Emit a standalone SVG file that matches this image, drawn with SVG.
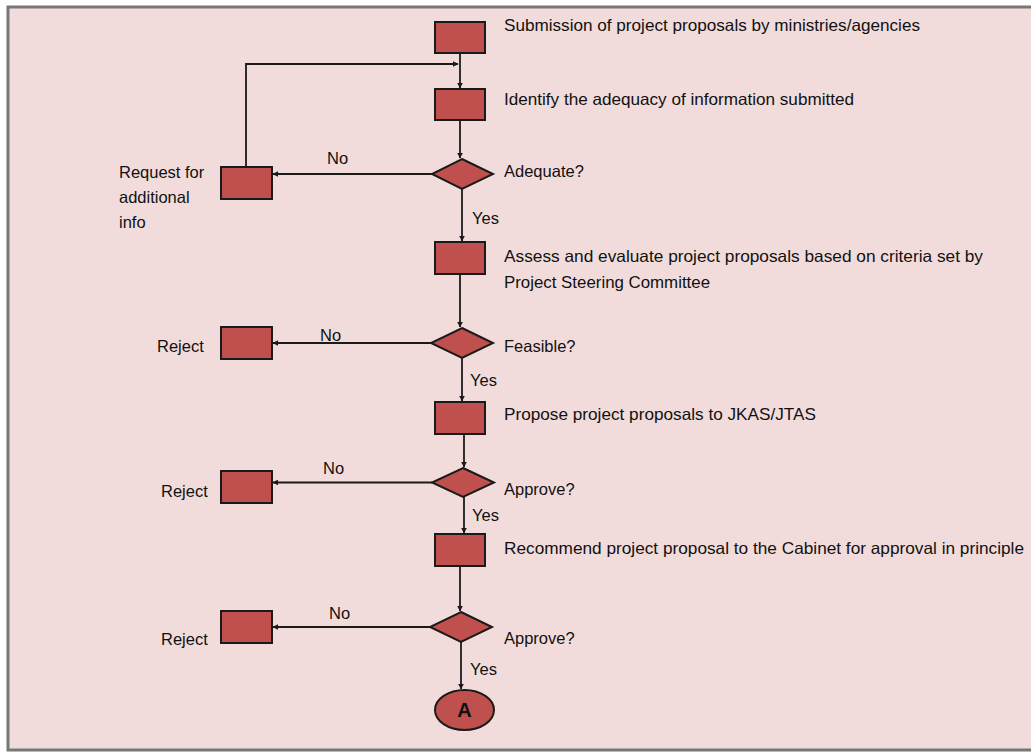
<svg xmlns="http://www.w3.org/2000/svg" width="1031" height="752" viewBox="0 0 1031 752">
<defs>
<style>
.box{fill:#C0504D;stroke:#1a1a1a;stroke-width:2}
.ln{fill:none;stroke:#1a1a1a;stroke-width:1.8;marker-end:url(#ah)}
.t{font-family:"Liberation Sans",Arial,sans-serif;font-size:16.5px;fill:#111111}
.a{font-family:"Liberation Sans",Arial,sans-serif;font-size:20px;font-weight:bold;fill:#111111}
</style>
<marker id="ah" viewBox="0 0 10 10" refX="9" refY="5" markerWidth="6" markerHeight="6" orient="auto" markerUnits="userSpaceOnUse">
<path d="M0,0 L10,5 L0,10 z" fill="#1a1a1a"/>
</marker>
</defs>
<rect x="0" y="0" width="1031" height="752" fill="#ffffff"/>
<rect x="8" y="7" width="1035" height="743" fill="#F2DCDB" stroke="#777777" stroke-width="3"/>

<g id="connectors">
<path class="ln" d="M460,53 V88"/>
<path class="ln" d="M246,167 V64 H458"/>
<path class="ln" d="M460,120 V158"/>
<path class="ln" d="M432,174 H273"/>
<path class="ln" d="M462,189 V241"/>
<path class="ln" d="M460,274 V327"/>
<path class="ln" d="M431,343 H273"/>
<path class="ln" d="M462,358 V401"/>
<path class="ln" d="M464,434 V467"/>
<path class="ln" d="M432,482.5 H273"/>
<path class="ln" d="M464,497 V533"/>
<path class="ln" d="M460,566 V611"/>
<path class="ln" d="M430,627 H273"/>
<path class="ln" d="M461,642 V689"/>
</g>

<g id="n1"><rect class="box" x="435" y="22" width="50" height="31"/>
<text class="t" x="504" y="31" textLength="416" lengthAdjust="spacingAndGlyphs">Submission of project proposals  by ministries/agencies</text></g>
<g id="n2"><rect class="box" x="435" y="89" width="50" height="31"/>
<text class="t" x="504" y="105" textLength="350" lengthAdjust="spacingAndGlyphs">Identify the adequacy of information  submitted</text></g>
<g id="d1"><polygon class="box" points="462,159 493,174 462,189 432,174"/>
<text class="t" x="504" y="177">Adequate?</text>
<text class="t" x="327" y="164">No</text>
<text class="t" x="472" y="224">Yes</text></g>
<g id="req"><rect class="box" x="221" y="167" width="51" height="32"/>
<text class="t" x="119" y="178">Request  for</text>
<text class="t" x="119" y="203">additional</text>
<text class="t" x="119" y="228">info</text></g>
<g id="n3"><rect class="box" x="435" y="242" width="50" height="32"/>
<text class="t" x="504" y="262" textLength="479" lengthAdjust="spacingAndGlyphs">Assess and evaluate project proposals based on criteria set by</text>
<text class="t" x="504" y="288" textLength="206" lengthAdjust="spacingAndGlyphs">Project Steering  Committee</text></g>
<g id="d2"><polygon class="box" points="462,328 493,343 462,358 431,343"/>
<text class="t" x="504" y="352">Feasible?</text>
<text class="t" x="320" y="341">No</text>
<text class="t" x="470" y="386">Yes</text></g>
<g id="r1"><rect class="box" x="221" y="327" width="51" height="32"/>
<text class="t" x="157" y="352">Reject</text></g>
<g id="n4"><rect class="box" x="435" y="402" width="50" height="32"/>
<text class="t" x="504" y="420" textLength="312" lengthAdjust="spacingAndGlyphs">Propose  project proposals to JKAS/JTAS</text></g>
<g id="d3"><polygon class="box" points="463,468 494,482.5 463,497 432,482.5"/>
<text class="t" x="504" y="495">Approve?</text>
<text class="t" x="323" y="474">No</text>
<text class="t" x="472" y="521">Yes</text></g>
<g id="r2"><rect class="box" x="221" y="471" width="51" height="32"/>
<text class="t" x="161" y="497">Reject</text></g>
<g id="n5"><rect class="box" x="435" y="534" width="50" height="32"/>
<text class="t" x="504" y="554" textLength="520" lengthAdjust="spacingAndGlyphs">Recommend  project proposal to the Cabinet for approval  in principle</text></g>
<g id="d4"><polygon class="box" points="461,612 492,627 461,642 430,627"/>
<text class="t" x="504" y="644">Approve?</text>
<text class="t" x="329" y="619">No</text>
<text class="t" x="470" y="675">Yes</text></g>
<g id="r3"><rect class="box" x="221" y="611" width="51" height="32"/>
<text class="t" x="161" y="645">Reject</text></g>
<g id="endA"><ellipse class="box" cx="464.5" cy="710" rx="29.5" ry="20"/>
<text class="a" x="464.5" y="717" text-anchor="middle">A</text></g>
</svg>
